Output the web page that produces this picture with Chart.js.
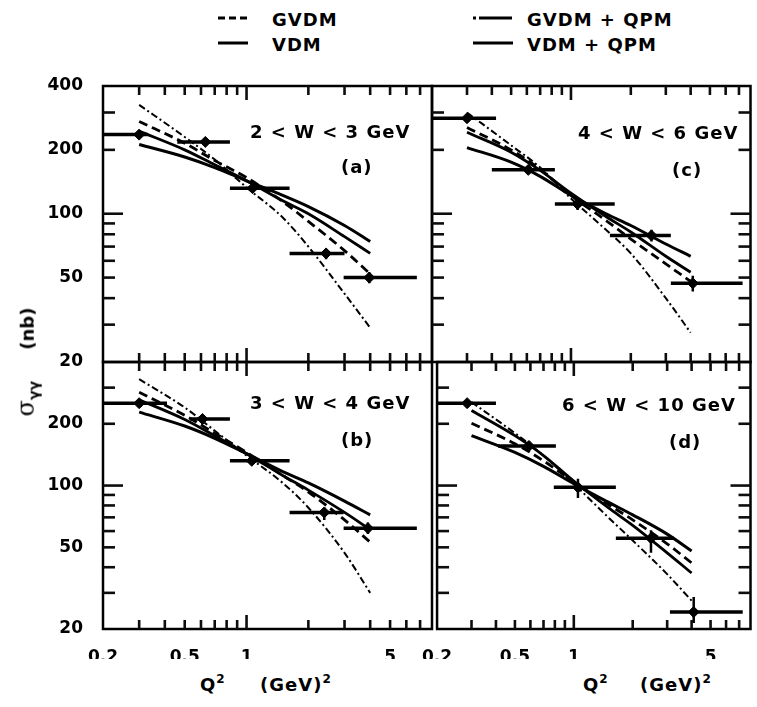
<!DOCTYPE html>
<html lang="en">
<head>
<meta charset="UTF-8" />
<title>Photon-photon cross section vs Q2</title>
<script src="https://cdn.jsdelivr.net/npm/chart.js"></script>
<style>
  body { margin: 0; background: #fff; color: #000; font-family: "DejaVu Sans", sans-serif; font-weight: bold; }
  #page { position: relative; width: 757px; height: 707px; overflow: hidden; background: #fff; }
  canvas { position: absolute; }
  .txt { position: absolute; font-size: 18px; letter-spacing: 1px; white-space: nowrap; line-height: 1; }
  #ylabel { position: absolute; left: 27px; top: 362px; font-size: 18px; white-space: nowrap; line-height: 1;
            transform: translate(-50%, -50%) rotate(-90deg); }
  #ylabel .sig { font-family: "DejaVu Serif", serif; font-size: 24px; font-weight: normal; }
  #ylabel sub { font-size: 14px; }
  sup { font-size: 12px; vertical-align: 8px; }
</style>
</head>
<body>
<div id="page">
  <svg style="position:absolute;left:0;top:0" width="757" height="60">
    <line x1="218" y1="18" x2="248" y2="18" stroke="#000" stroke-width="3" stroke-dasharray="7 4" />
    <line x1="218" y1="43" x2="248" y2="43" stroke="#000" stroke-width="3" />
    <line x1="473" y1="18" x2="513" y2="18" stroke="#000" stroke-width="3" stroke-dasharray="3 3 30 0" />
    <line x1="473" y1="43" x2="513" y2="43" stroke="#000" stroke-width="3" />
  </svg>
  <div class="txt" style="left:272px;top:11px">GVDM</div>
  <div class="txt" style="left:272px;top:36px">VDM</div>
  <div class="txt" style="left:527px;top:11px">GVDM + QPM</div>
  <div class="txt" style="left:527px;top:36px">VDM + QPM</div>

  <canvas id="panelA" width="400" height="328" style="left:40px;top:60px"></canvas>
  <canvas id="panelB" width="400" height="330" style="left:40px;top:336px"></canvas>
  <canvas id="panelC" width="345" height="328" style="left:412px;top:60px"></canvas>
  <canvas id="panelD" width="345" height="330" style="left:412px;top:336px"></canvas>

  <div class="txt" style="left:250px;top:123px">2 &lt; W &lt; 3 GeV</div>
  <div class="txt" style="left:341px;top:158px">(a)</div>
  <div class="txt" style="left:250px;top:394px">3 &lt; W &lt; 4 GeV</div>
  <div class="txt" style="left:341px;top:431px">(b)</div>
  <div class="txt" style="left:578px;top:124px">4 &lt; W &lt; 6 GeV</div>
  <div class="txt" style="left:672px;top:161px">(c)</div>
  <div class="txt" style="left:562px;top:396px">6 &lt; W &lt; 10 GeV</div>
  <div class="txt" style="left:669px;top:433px">(d)</div>

  <div id="ylabel"><span class="sig">σ</span><sub>γγ</sub>&nbsp;&nbsp;&nbsp;&nbsp;&nbsp;(nb)</div>
  <div class="txt" style="left:200px;top:673px">Q<sup>2</sup></div>
  <div class="txt" style="left:260px;top:673px">(GeV)<sup>2</sup></div>
  <div class="txt" style="left:583px;top:673px">Q<sup>2</sup></div>
  <div class="txt" style="left:640px;top:673px">(GeV)<sup>2</sup></div>
</div>

<script>
  // model curves sampled at these Q^2 values
  const q2Grid = [0.3, 0.5, 0.7, 1.0, 1.5, 2.0, 3.0, 4.0];

  // (a) 2 < W < 3 GeV
  const gvdmA    = [272, 215, 178, 148, 114, 92, 67, 52];
  const vdmA     = [245, 200, 170, 143, 115, 100, 78, 65];
  const gvdmQpmA = [326, 230, 180, 133, 96, 70, 42, 29];
  const vdmQpmA  = [212, 185, 165, 143, 122, 108, 88, 74];
  const q2PtsA = [0.30, 0.63, 1.07, 2.44, 3.96];
  const q2LoA  = [0.20, 0.46, 0.83, 1.62, 2.97];
  const q2HiA  = [0.33, 0.83, 1.62, 3.00, 6.75];
  const sigA   = [236, 218, 132, 65, 50];
  const sigLoA = [230, 212, 127, 61, 47];
  const sigHiA = [242, 224, 137, 68, 53];

  // (b) 3 < W < 4 GeV
  const gvdmB    = [285, 220, 180, 145, 112, 93, 68, 53];
  const vdmB     = [262, 210, 175, 143, 112, 95, 74, 61];
  const gvdmQpmB = [330, 240, 185, 140, 103, 78, 47, 30];
  const vdmQpmB  = [228, 195, 170, 143, 117, 103, 84, 72];
  const q2PtsB = [0.30, 0.61, 1.06, 2.39, 3.90];
  const q2LoB  = [0.20, 0.53, 0.83, 1.62, 2.97];
  const q2HiB  = [0.41, 0.83, 1.62, 2.97, 6.75];
  const sigB   = [252, 211, 132, 74, 62];
  const sigLoB = [245, 204, 127, 68, 58];
  const sigHiB = [259, 218, 137, 78, 66];

  // (c) 4 < W < 6 GeV
  const gvdmC    = [255, 200, 162, 122, 93, 76, 58, 48];
  const vdmC     = [242, 195, 160, 125, 97, 82, 63, 53];
  const gvdmQpmC = [300, 210, 165, 118, 84, 65, 40, 27.5];
  const vdmQpmC  = [205, 175, 150, 122, 100, 88, 72, 63];
  const q2PtsC = [0.30, 0.61, 1.08, 2.54, 4.10];
  const q2LoC  = [0.20, 0.40, 0.83, 1.57, 3.18];
  const q2HiC  = [0.42, 0.83, 1.66, 3.18, 7.30];
  const sigC   = [282, 161, 111, 79, 47];
  const sigLoC = [274, 155, 104, 74, 43];
  const sigHiC = [290, 167, 117, 84, 51];

  // (d) 6 < W < 10 GeV
  const gvdmD    = [201, 160, 132, 104, 81, 68, 52, 42];
  const vdmD     = [232, 175, 140, 105, 78, 64, 47, 37.5];
  const gvdmQpmD = [255, 180, 140, 102, 70, 54, 37, 27.5];
  const vdmQpmD  = [175, 145, 124, 102, 83, 72, 58, 48];
  const q2PtsD = [0.285, 0.59, 1.05, 2.48, 4.10];
  const q2LoD  = [0.20, 0.41, 0.79, 1.64, 3.10];
  const q2HiD  = [0.40, 0.81, 1.64, 3.25, 7.30];
  const sigD   = [252, 156, 98, 55.4, 24.2];
  const sigLoD = [240, 148, 87, 47, 21.4];
  const sigHiD = [262, 164, 108, 60.5, 28.6];

  // axes
  const xLabelVals = [0.2, 0.5, 1, 5];
  const yLabelValsTop = [20, 50, 100, 200, 400];
  const yLabelValsBottom = [20, 50, 100, 200];
  const xTickMarks = [0.3, 0.4, 0.5, 0.6, 0.7, 0.8, 0.9, 1, 2, 3, 4, 5, 6, 7];
  const yTickMarks = [30, 40, 50, 60, 70, 80, 90, 100, 200, 300];

  const tickFont = { family: "DejaVu Sans", weight: "bold", size: 17 };

  function seg(ctx, x1, y1, x2, y2) {
    ctx.beginPath();
    ctx.moveTo(x1, y1);
    ctx.lineTo(x2, y2);
    ctx.stroke();
  }

  // frame plus inward tick marks, placed through the chart's own scales
  const frameAndTicks = {
    id: "frameAndTicks",
    afterDraw(chart, args, opts) {
      const ctx = chart.ctx, a = chart.chartArea;
      const xs = chart.scales.x, ys = chart.scales.y;
      ctx.save();
      ctx.setLineDash([]);
      ctx.strokeStyle = "#000";
      ctx.lineWidth = 2.5;
      ctx.strokeRect(a.left, a.top, a.right - a.left, a.bottom - a.top);
      ctx.strokeStyle = "#0d0d0d";
      ctx.lineWidth = 2.6;
      for (const v of xTickMarks) {
        const px = xs.getPixelForValue(v);
        const len = v === 1 ? 14 : 9;
        seg(ctx, px, a.bottom, px, a.bottom - len);
        seg(ctx, px, a.top, px, a.top + len);
      }
      for (const v of yTickMarks) {
        const py = ys.getPixelForValue(v);
        const len = v === 100 ? 20 : 12;
        seg(ctx, a.left, py, a.left + len, py);
        if (opts.rightTicks) seg(ctx, a.right, py, a.right - len, py);
      }
      ctx.restore();
    }
  };

  function curve(label, ys, width, dash) {
    return {
      label, data: q2Grid.map((q, i) => ({ x: q, y: ys[i] })),
      borderColor: "#000", borderWidth: width, borderDash: dash,
      pointRadius: 0, cubicInterpolationMode: "monotone"
    };
  }

  function errorBars(pts, lo, hi, sig, sigLo, sigHi) {
    const h = [], v = [];
    pts.forEach((q, i) => {
      h.push({ x: lo[i], y: sig[i] }, { x: hi[i], y: sig[i] }, { x: hi[i], y: null });
      v.push({ x: q, y: sigLo[i] }, { x: q, y: sigHi[i] }, { x: q, y: null });
    });
    return [
      { label: "xerr", data: h, borderColor: "#000", borderWidth: 3.5, pointRadius: 0, spanGaps: false },
      { label: "yerr", data: v, borderColor: "#000", borderWidth: 2.5, pointRadius: 0, spanGaps: false },
      { label: "data", data: pts.map((q, i) => ({ x: q, y: sig[i] })), showLine: false,
        pointStyle: "rectRot", pointRadius: 5.5, backgroundColor: "#000", borderColor: "#000" }
    ];
  }

  function makePanel(id, p) {
    return new Chart(document.getElementById(id), {
      type: "line",
      data: {
        datasets: [
          curve("GVDM", p.gvdm, 2.8, [9, 5]),
          curve("VDM", p.vdm, 2.8, []),
          curve("GVDM + QPM", p.gvdmQpm, 2, [7, 3, 2, 3]),
          curve("VDM + QPM", p.vdmQpm, 3, []),
          ...errorBars(p.pts, p.lo, p.hi, p.sig, p.sigLo, p.sigHi)
        ]
      },
      options: {
        responsive: false,
        animation: false,
        layout: { padding: p.padding },
        plugins: {
          legend: { display: false },
          tooltip: { enabled: false },
          frameAndTicks: { rightTicks: p.right }
        },
        scales: {
          x: {
            type: "logarithmic", min: 0.2, max: 8,
            grid: { display: false }, border: { display: false },
            ticks: { display: p.showX, autoSkip: false, maxRotation: 0, padding: 10,
                     font: tickFont, color: "#000", callback: v => String(v) },
            afterBuildTicks: s => { s.ticks = xLabelVals.map(v => ({ value: v })); },
            afterFit: s => { s.height = p.showX ? 30 : 0; }
          },
          y: {
            type: "logarithmic", min: 20, max: 400,
            grid: { display: false }, border: { display: false },
            ticks: { display: !p.right, autoSkip: false, padding: 12,
                     font: tickFont, color: "#000", callback: v => String(v) },
            afterBuildTicks: s => { s.ticks = p.yLabels.map(v => ({ value: v })); },
            afterFit: s => { s.width = p.right ? 20 : 63; }
          }
        }
      },
      plugins: [frameAndTicks]
    });
  }

  makePanel("panelA", { gvdm: gvdmA, vdm: vdmA, gvdmQpm: gvdmQpmA, vdmQpm: vdmQpmA,
    pts: q2PtsA, lo: q2LoA, hi: q2HiA, sig: sigA, sigLo: sigLoA, sigHi: sigHiA,
    showX: false, right: false, yLabels: yLabelValsTop,
    padding: { top: 26, bottom: 26, left: 0, right: 8 } });
  makePanel("panelB", { gvdm: gvdmB, vdm: vdmB, gvdmQpm: gvdmQpmB, vdmQpm: vdmQpmB,
    pts: q2PtsB, lo: q2LoB, hi: q2HiB, sig: sigB, sigLo: sigLoB, sigHi: sigHiB,
    showX: true, right: false, yLabels: yLabelValsBottom,
    padding: { top: 26, bottom: 7, left: 0, right: 8 } });
  makePanel("panelC", { gvdm: gvdmC, vdm: vdmC, gvdmQpm: gvdmQpmC, vdmQpm: vdmQpmC,
    pts: q2PtsC, lo: q2LoC, hi: q2HiC, sig: sigC, sigLo: sigLoC, sigHi: sigHiC,
    showX: false, right: true, yLabels: yLabelValsTop,
    padding: { top: 26, bottom: 26, left: 0, right: 4 } });
  makePanel("panelD", { gvdm: gvdmD, vdm: vdmD, gvdmQpm: gvdmQpmD, vdmQpm: vdmQpmD,
    pts: q2PtsD, lo: q2LoD, hi: q2HiD, sig: sigD, sigLo: sigLoD, sigHi: sigHiD,
    showX: true, right: true, yLabels: yLabelValsBottom,
    padding: { top: 26, bottom: 7, left: 0, right: 4 } });
</script>
</body>
</html>
